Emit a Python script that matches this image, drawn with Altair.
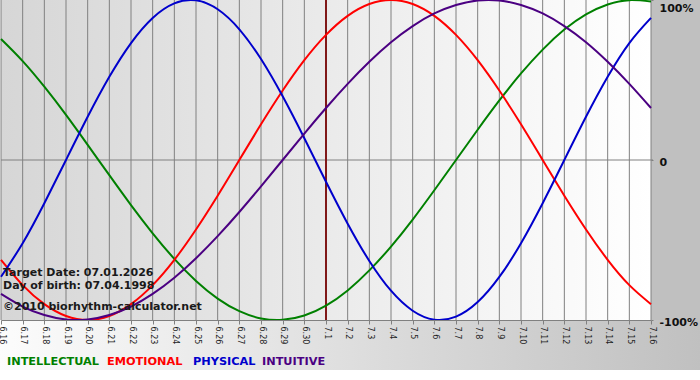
import altair as alt
import pandas as pd

dates = ["6.16", "6.17", "6.18", "6.19", "6.20", "6.21", "6.22", "6.23", "6.24", "6.25",
         "6.26", "6.27", "6.28", "6.29", "6.30", "7.1", "7.2", "7.3", "7.4", "7.5",
         "7.6", "7.7", "7.8", "7.9", "7.10", "7.11", "7.12", "7.13", "7.14", "7.15", "7.16"]

physical = [-0.730, -0.520, -0.270, 0.000, 0.270, 0.520, 0.731, 0.888, 0.979, 0.998,
            0.942, 0.817, 0.631, 0.398, 0.136, -0.136, -0.398, -0.631, -0.817, -0.942,
            -0.998, -0.979, -0.888, -0.731, -0.520, -0.270, 0.000, 0.270, 0.520, 0.731, 0.888]
emotional = [-0.624, -0.782, -0.901, -0.975, -1.000, -0.975, -0.901, -0.782, -0.624, -0.434,
             -0.223, 0.000, 0.223, 0.434, 0.624, 0.782, 0.901, 0.975, 1.000, 0.975,
             0.901, 0.782, 0.624, 0.434, 0.223, 0.000, -0.223, -0.434, -0.624, -0.782, -0.901]
intellectual = [0.756, 0.618, 0.458, 0.282, 0.095, -0.095, -0.282, -0.458, -0.618, -0.756,
                -0.866, -0.945, -0.990, -0.999, -0.972, -0.910, -0.815, -0.690, -0.541, -0.372,
                -0.189, 0.000, 0.189, 0.372, 0.541, 0.690, 0.815, 0.910, 0.972, 0.999, 0.990]
intuitive = [-0.837, -0.916, -0.969, -0.997, -0.997, -0.969, -0.916, -0.837, -0.736, -0.614,
             -0.476, -0.325, -0.165, 0.000, 0.165, 0.325, 0.476, 0.614, 0.736, 0.837,
             0.916, 0.969, 0.997, 0.997, 0.969, 0.916, 0.837, 0.736, 0.614, 0.476, 0.325]

series_names = ["INTELLECTUAL", "EMOTIONAL", "PHYSICAL", "INTUITIVE"]
series_colors = ["#008000", "#ff0000", "#0000cc", "#4b0082"]
target_date = "7.1"
info_lines = ["Target Date: 07.01.2026", "Day of birth: 07.04.1998", "©2010 biorhythm-calculator.net"]

rows = []
for name, vals in zip(series_names, [intellectual, emotional, physical, intuitive]):
    for d, v in zip(dates, vals):
        rows.append({"date": d, "series": name, "value": v * 100})
df = pd.DataFrame(rows)
df_dates = pd.DataFrame({"date": dates})
df_one = pd.DataFrame({"a": [0]})

W, H = 650, 320
xscale = alt.Scale(type="point", domain=dates, padding=0)
yscale = alt.Scale(domain=[-100, 100], nice=False)
x_axis = alt.Axis(title=None, labelAngle=90, labelFontSize=8, labelFont="DejaVu Sans",
                  labelColor="#1e1e1e", tickSize=4, tickColor="#808080",
                  domainColor="#808080", labelPadding=2, labelOverlap=False,
                  grid=False, zindex=1)
y_axis = alt.Axis(title=None, orient="right", values=[-100, 0, 100],
                  labelExpr="datum.value == 0 ? '0' : datum.value + '%'",
                  labelFont="DejaVu Sans", labelFontSize=11, labelFontWeight="bold",
                  labelColor="#111111", labelPadding=6, labelOffset=2,
                  labelBaseline={"condition": {"test": "datum.value == 100", "value": "top"},
                                 "value": "middle"},
                  domain=False, tickSize=2, tickColor="#808080", grid=False, zindex=1)

plot_bg = alt.Chart(df_one).mark_rect(
    fill=alt.Gradient(gradient="linear", x1=0, x2=1, y1=0, y2=0,
                      stops=[alt.GradientStop(color="#d6d6d6", offset=0),
                             alt.GradientStop(color="#ffffff", offset=1)])
).encode(x=alt.value(0), x2=alt.value(W), y=alt.value(0), y2=alt.value(H))

right_bg = alt.Chart(df_one).mark_rect(fill="#c0c0c0").encode(
    x=alt.value(W), x2=alt.value(W + 50), y=alt.value(0), y2=alt.value(H))

bottom_bg = alt.Chart(df_one).mark_rect(
    fill=alt.Gradient(gradient="linear", x1=0, x2=1, y1=0, y2=0,
                      stops=[alt.GradientStop(color="#fcfcfc", offset=0),
                             alt.GradientStop(color="#c0c0c0", offset=1)])
).encode(x=alt.value(-1), x2=alt.value(W + 50), y=alt.value(H), y2=alt.value(H + 50))

grid = alt.Chart(df_dates).mark_rule(color="#808080", strokeWidth=1).encode(
    x=alt.X("date:O", scale=xscale, axis=x_axis))

zero = alt.Chart(df_one).mark_rule(color="#808080", strokeWidth=1).encode(
    y=alt.datum(0, scale=yscale, axis=y_axis), x=alt.value(0), x2=alt.value(W + 2))

target = alt.Chart(pd.DataFrame({"date": [target_date]})).mark_rule(
    color="#801818", strokeWidth=2).encode(x=alt.X("date:O", scale=xscale, axis=x_axis))

lines = alt.Chart(df).mark_line(strokeWidth=2, interpolate="natural").encode(
    x=alt.X("date:O", scale=xscale, axis=x_axis),
    y=alt.Y("value:Q", scale=yscale, axis=y_axis),
    color=alt.Color("series:N", scale=alt.Scale(domain=series_names, range=series_colors), legend=None),
)

info_layers = []
for txt, yy in zip(info_lines, [273, 286, 307]):
    info_layers.append(
        alt.Chart(df_one).mark_text(text=txt, align="left", baseline="middle", font="DejaVu Sans",
                                    fontSize=11, fontWeight="bold", color="#1a1a1a")
        .encode(x=alt.value(2), y=alt.value(yy)))

legend_layers = []
for name, col, xx in zip(series_names, series_colors, [6, 106, 192, 261]):
    legend_layers.append(
        alt.Chart(df_one).mark_text(text=name, align="left", baseline="middle", font="DejaVu Sans",
                                    fontSize=11.3, fontWeight="bold", color=col)
        .encode(x=alt.value(xx), y=alt.value(362)))

chart = alt.layer(plot_bg, right_bg, bottom_bg, grid, zero, target, lines,
                  *info_layers, *legend_layers).properties(
    width=W, height=H,
    autosize=alt.AutoSizeParams(type="none"),
    padding={"left": 1, "top": 0, "right": 49, "bottom": 60},
    background="#ffffff",
).configure_view(strokeWidth=0)

chart.save("out.html", embed_options={"renderer": "svg", "actions": False})
